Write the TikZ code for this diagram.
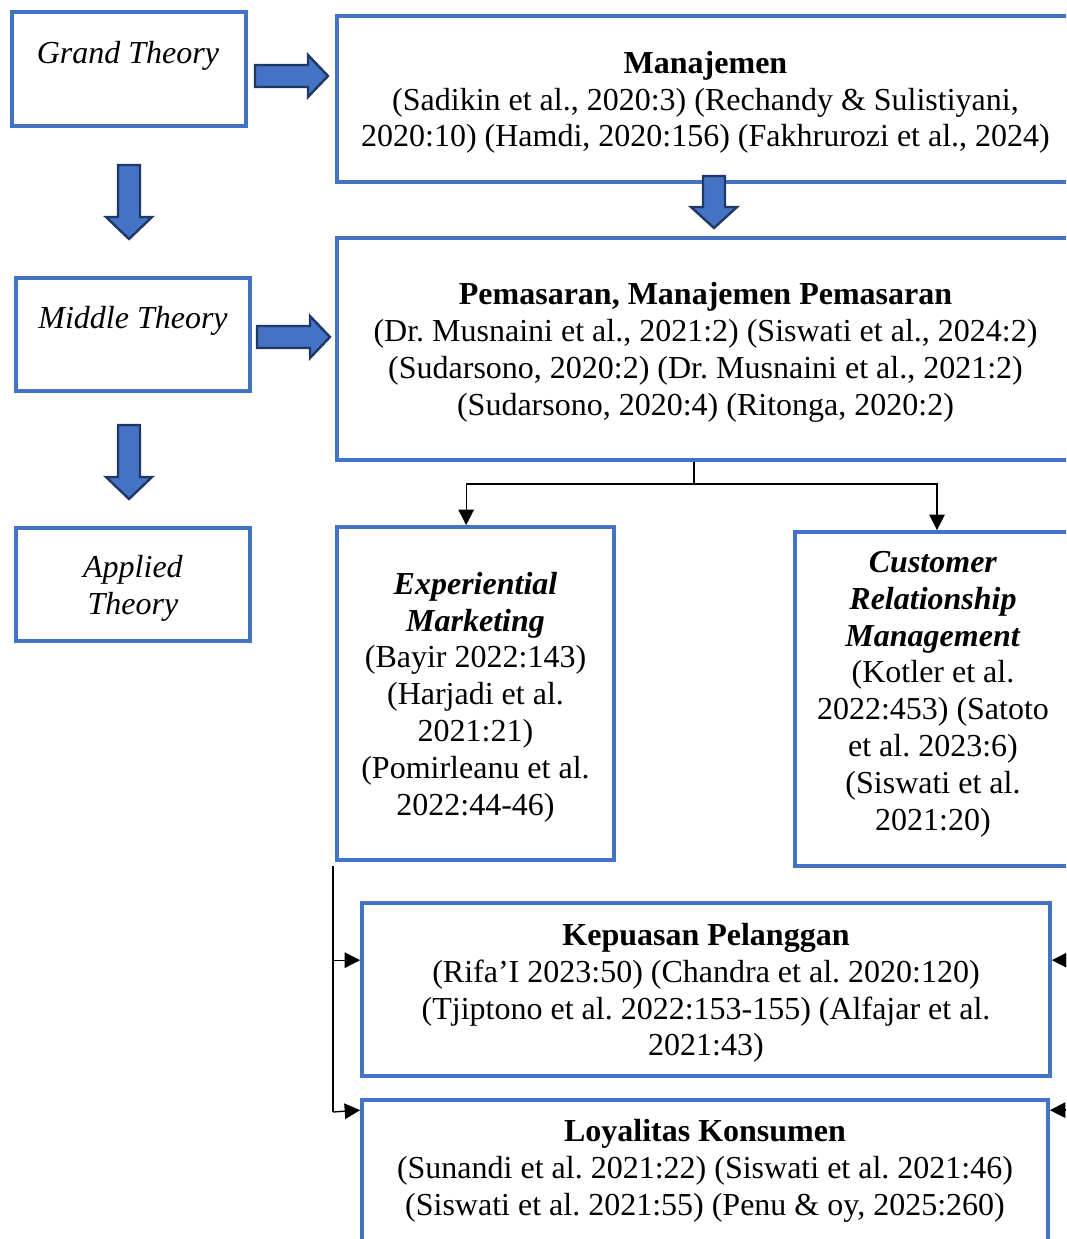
\documentclass[tikz,border=0pt]{standalone}
\usepackage{fontspec}
\setmainfont{Liberation Serif}
\usetikzlibrary{arrows.meta}
\definecolor{thblue}{HTML}{4472C4}
\definecolor{thnavy}{HTML}{1F3864}
\frenchspacing

\begin{document}
\begin{tikzpicture}[x=0.375pt, y=-0.375pt,
  box/.style={draw=thblue, line width=1.4pt, inner sep=0pt, align=center, text depth=0pt, font=\fontsize{12}{13.8}\selectfont},
  lbl/.style={inner sep=0pt, align=center, font=\fontsize{12}{13.8}\selectfont},
  blockarrow/.style={fill=thblue, draw=thnavy, line width=0.9pt, line join=miter},
  link/.style={draw=black, line width=0.5pt, -{Triangle[length=5.8pt, width=5.8pt]}}]
  \useasboundingbox (0,0) rectangle (1066,1239);
  \clip (0,0) rectangle (1066,1239);

  % theory column
  \node[box, minimum width=87.75pt, minimum height=42.75pt] (grand) at (129,69) {};
  \node[lbl] (grandtxt) at (128,56) {\itshape Grand Theory};
  \node[box, minimum width=87.75pt, minimum height=42.4pt] (middle) at (133,334.5) {};
  \node[lbl] (middletxt) at (133,321) {\itshape Middle Theory};
  \node[box, minimum width=87.75pt, minimum height=42.4pt] (applied) at (133,584.5) {\textit{Applied}\\\textit{Theory}};

  % literature boxes
  \node[box, minimum width=276.4pt, minimum height=62.25pt] (manaj) at (705.5,99)
    {\textbf{Manajemen}\\(Sadikin et al., 2020:3) (Rechandy \& Sulistiyani,\\2020:10) (Hamdi, 2020:156) (Fakhrurozi et al., 2024)};
  \node[box, minimum width=276.4pt, minimum height=83.25pt] (pemas) at (705.5,349)
    {\textbf{Pemasaran, Manajemen Pemasaran}\\(Dr. Musnaini et al., 2021:2) (Siswati et al., 2024:2)\\(Sudarsono, 2020:2) (Dr. Musnaini et al., 2021:2)\\(Sudarsono, 2020:4) (Ritonga, 2020:2)};
  \node[box, minimum width=103.9pt, minimum height=124.9pt] (exper) at (475.5,693.5)
    {\textbf{\textit{Experiential}}\\\textbf{\textit{Marketing}}\\(Bayir 2022:143)\\(Harjadi et al.\\2021:21)\\(Pomirleanu et al.\\2022:44-46)};
  \node[box, minimum width=103.5pt, minimum height=125.25pt] (crm) at (933,699) {};
  \node[lbl] (crmtxt) at (933,694)
    {\textbf{\textit{Customer}}\\\textbf{\textit{Relationship}}\\\textbf{\textit{Management}}\\(Kotler et al.\\2022:453) (Satoto\\et al. 2023:6)\\(Siswati et al.\\2021:20)};
  \node[box, minimum width=258pt, minimum height=64.9pt] (kepuas) at (706,989.5)
    {\textbf{Kepuasan Pelanggan}\\(Rifa’I 2023:50) (Chandra et al. 2020:120)\\(Tjiptono et al. 2022:153-155) (Alfajar et al.\\2021:43)};
  \node[box, minimum width=257.25pt, minimum height=60pt] (loyal) at (705,1180) {};
  \node[lbl] (loyaltxt) at (705,1171)
    {\textbf{Loyalitas Konsumen}\\(Sunandi et al. 2021:22) (Siswati et al. 2021:46)\\(Siswati et al. 2021:55) (Penu \& oy, 2025:260)};

  % block arrows
  \draw[blockarrow] (255,65) -- (308,65) -- (308,55) -- (328,76) -- (308,97) -- (308,87) -- (255,87) -- cycle;
  \draw[blockarrow] (257,326) -- (310,326) -- (310,316) -- (330,337) -- (310,358) -- (310,348) -- (257,348) -- cycle;
  \draw[blockarrow] (118,165) -- (140,165) -- (140,217) -- (152,217) -- (129,239) -- (106,217) -- (118,217) -- cycle;
  \draw[blockarrow] (118,425) -- (140,425) -- (140,477) -- (152,477) -- (129,499) -- (106,477) -- (118,477) -- cycle;
  \draw[blockarrow] (703,176) -- (725,176) -- (725,207) -- (737,207) -- (714,228) -- (691,207) -- (703,207) -- cycle;

  % connectors
  \coordinate (split) at (694,484);
  \draw[line width=0.5pt] (split |- pemas.south) -- (split);
  \draw[link] (split) -| ([xshift=-3.5pt]exper.north);
  \draw[link] (split) -| ([xshift=1.5pt]crm.north);

  \coordinate (lstart) at (333,866);
  \coordinate (lend) at (333,1112);
  \coordinate (kepin) at ([yshift=11pt]kepuas.west);
  \coordinate (loyin) at ([yshift=-4.5pt]loyal.north west);
  \draw[line width=0.5pt] (lstart) -- (lend);
  \draw[link] (lstart |- kepin) -- (kepin);
  \draw[link] (lend) -- (loyin);

  \coordinate (kepout) at ([yshift=11pt]kepuas.east);
  \coordinate (loyout) at ([yshift=-4.5pt]loyal.north east);
  \draw[link] ([xshift=12pt]kepout) -- (kepout);
  \draw[link] ([xshift=12pt]loyout) -- (loyout);
\end{tikzpicture}
\end{document}
